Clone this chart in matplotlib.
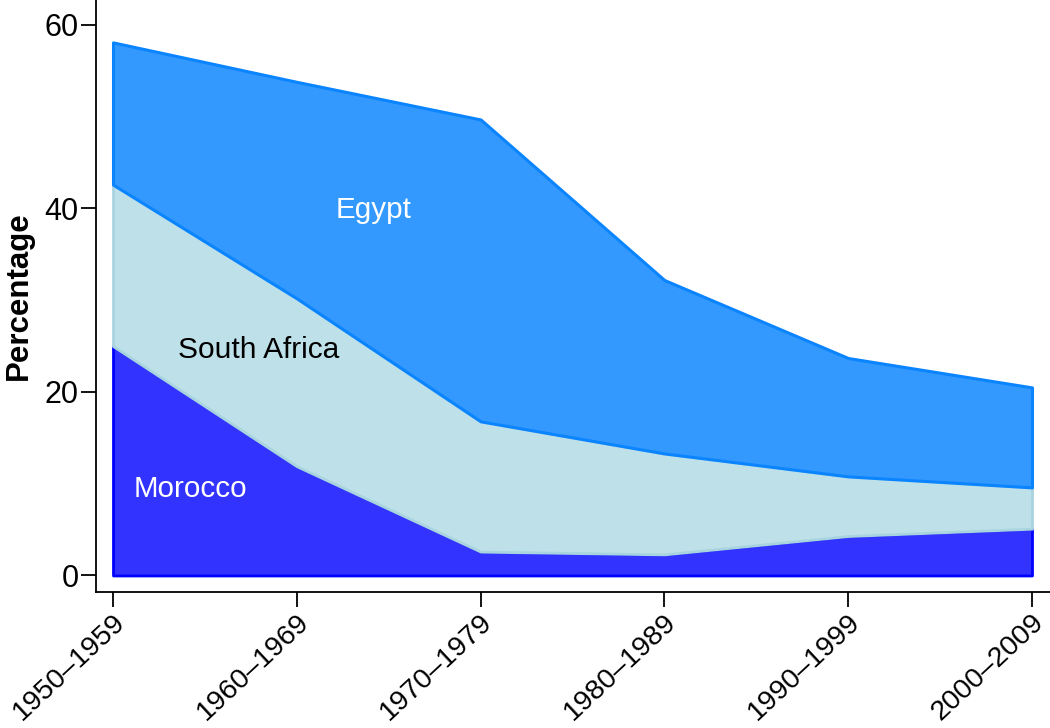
import matplotlib
matplotlib.use("Agg")
import matplotlib.pyplot as plt
import numpy as np

plt.rcParams['font.family'] = ['Liberation Sans', 'DejaVu Sans']

decades = ["1950–1959", "1960–1969", "1970–1979", "1980–1989", "1990–1999", "2000–2009"]
morocco = [25.0, 11.9, 2.6, 2.3, 4.3, 5.1]
south_africa = [17.6, 18.3, 14.2, 11.0, 6.5, 4.5]
egypt = [15.5, 23.6, 32.9, 18.9, 12.9, 10.9]
yticks = [0, 20, 40, 60]

x = np.arange(len(decades))
m = np.array(morocco)
sa = m + np.array(south_africa)
eg = sa + np.array(egypt)

fig = plt.figure(figsize=(10.5, 7.28), dpi=100)
ax = fig.add_axes([96/1050, 136/728, 1 - 96/1050, 1 - 136/728])

ax.fill_between(x, 0, m, facecolor="#3333FF", edgecolor="#0000FF", linewidth=2.0, zorder=2)
ax.fill_between(x, m, sa, facecolor="#BEE0E8", edgecolor="#A8D4E0", linewidth=2.0, zorder=3)
ax.fill_between(x, sa, eg, facecolor="#3399FF", edgecolor="#0A84FF", linewidth=2.2, zorder=4)

ax.text(1.415, 38.95, "Egypt", color="white", fontsize=21.3, ha="center", va="baseline", zorder=5)
ax.text(0.795, 23.67, "South Africa", color="black", fontsize=21.5, ha="center", va="baseline", zorder=5)
ax.text(0.42, 8.6, "Morocco", color="white", fontsize=21.3, ha="center", va="baseline", zorder=5)

ax.set_xlim(-0.0925, 5.098)
ax.set_ylim(-1.8, 62.72)
ax.set_xticks(x)
ax.set_xticklabels([""] * len(decades))
# rotated decade labels, shifted right of their ticks as in the reference
for xi, lab in zip(x, decades):
    ax.annotate(lab, xy=(xi, 0), xycoords=ax.get_xaxis_transform(),
                xytext=(6, -19), textcoords="offset points",
                rotation=43, ha="right", va="center", rotation_mode="anchor",
                fontsize=20.5, annotation_clip=False)
ax.set_yticks(yticks)
ax.set_yticklabels([str(v) for v in yticks], fontsize=22)
ax.tick_params(axis="both", length=11, width=1.3, color="black", direction="out")
ax.tick_params(axis="y", pad=1.5)
ax.set_ylabel("Percentage", fontsize=22.5, fontweight="bold", labelpad=8)

for s in ["top", "right"]:
    ax.spines[s].set_visible(False)
for s in ["left", "bottom"]:
    ax.spines[s].set_linewidth(1.3)
    ax.spines[s].set_color("black")

fig.savefig("out.png", dpi=100)
